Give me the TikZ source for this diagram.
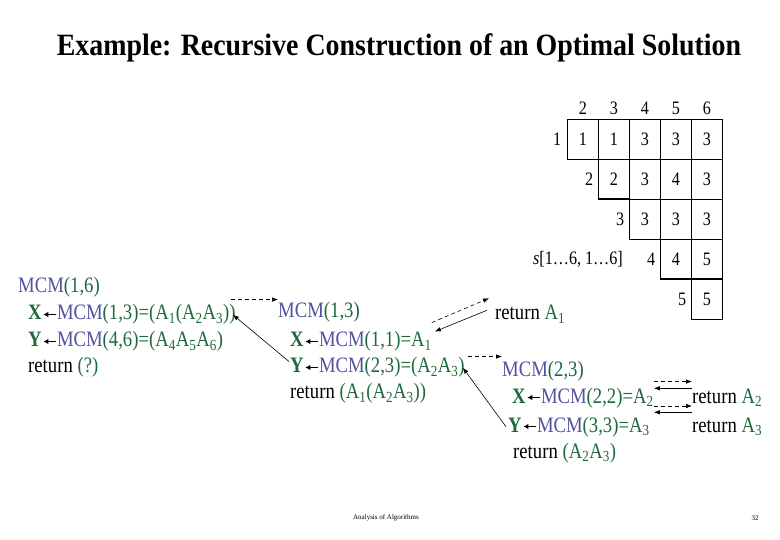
\documentclass[tikz,border=0pt]{standalone}
\usepackage{fontspec}
\setmainfont{Liberation Serif}
\newfontfamily\slimserif[FakeStretch=0.85]{Liberation Serif}
\newfontfamily\titleserif[FakeStretch=0.9]{Liberation Serif}
\usetikzlibrary{arrows.meta,positioning}
\definecolor{mcmblue}{RGB}{82,82,160}
\definecolor{argreen}{RGB}{30,105,60}
\newcommand{\codefont}{\slimserif\fontsize{22}{26}\selectfont}
\newcommand{\cellfont}{\slimserif\fontsize{19}{22}\selectfont}
\newcommand{\mcm}[1]{\textcolor{mcmblue}{MCM}\textcolor{argreen}{(#1)}}
\newcommand{\ma}[1]{A\textsubscript{#1}}
\newcommand{\assign}{\hspace{1pt}\tikz[baseline=-5.5pt]\draw[line width=1.3pt,
  -{Latex[length=5pt,width=5.5pt]}] (13pt,0) -- (0,0);}
\newcommand{\vx}{\textcolor{argreen}{\textbf{X}}}
\newcommand{\vy}{\textcolor{argreen}{\textbf{Y}}}

\begin{document}
\begin{tikzpicture}[x=1pt,y=-1pt,>=Latex,
  codeline/.style={anchor=base west,inner sep=0pt,font=\codefont},
  cell/.style={draw,minimum width=31pt,minimum height=40pt,inner sep=0pt,
    outer sep=0pt,font=\cellfont},
  idx/.style={inner sep=0pt,font=\cellfont},
  callarrow/.style={-{Latex[length=6pt,width=4.5pt]},semithick,
    dash pattern=on 4pt off 3pt},
  retarrow/.style={-{Latex[length=6pt,width=4.5pt]},semithick}]
\fill[white] (0,0) rectangle (780,540);
\useasboundingbox (0,0) rectangle (780,540);

% title and footer
\node[font=\titleserif\fontsize{31}{34}\selectfont\bfseries] (title) at (399,48)
  {Example: Recursive Construction of an Optimal Solution};
\node[font=\fontsize{7}{8}\selectfont] (course) at (386,518) {Analysis of Algorithms};
\node[font=\fontsize{7}{8}\selectfont] (page) at (755,518) {32};

% table s
\node[cell] (c12) at (583,139) {1};
\node[cell,right=0pt of c12] (c13) {1};
\node[cell,right=0pt of c13] (c14) {3};
\node[cell,right=0pt of c14] (c15) {3};
\node[cell,right=0pt of c15] (c16) {3};
\node[cell,below=0pt of c13] (c23) {2};
\node[cell,right=0pt of c23] (c24) {3};
\node[cell,right=0pt of c24] (c25) {4};
\node[cell,right=0pt of c25] (c26) {3};
\node[cell,below=0pt of c24] (c34) {3};
\node[cell,right=0pt of c34] (c35) {3};
\node[cell,right=0pt of c35] (c36) {3};
\node[cell,below=0pt of c35] (c45) {4};
\node[cell,right=0pt of c45] (c46) {5};
\node[cell,below=0pt of c46] (c56) {5};
\draw[very thick] (c13.north west) -- (c23.south west) -- (c23.south east);
\draw[very thick] (c45.south west) -- (c46.south east);
\node[idx,above=4pt of c12] (h2) {2};
\node[idx,above=4pt of c13] (h3) {3};
\node[idx,above=4pt of c14] (h4) {4};
\node[idx,above=4pt of c15] (h5) {5};
\node[idx,above=4pt of c16] (h6) {6};
\node[idx,left=6pt of c12] (r1) {1};
\node[idx,left=5pt of c23] (r2) {2};
\node[idx,left=5pt of c34] (r3) {3};
\node[idx,left=5pt of c45] (r4) {4};
\node[idx,left=5pt of c56] (r5) {5};
\node[idx,left=24pt of r4] (sname) {\textit{s}[1\ldots6, 1\ldots6]};

% MCM(1,6)
\node[codeline] (lm) at (18,293) {\mcm{1,6}};
\node[codeline] (lx) at (28,320)
  {\vx\assign\mcm{1,3}\textcolor{argreen}{=(\ma{1}(\ma{2}\ma{3}))}};
\node[codeline] (ly) at (28,347)
  {\vy\assign\mcm{4,6}\textcolor{argreen}{=(\ma{4}\ma{5}\ma{6})}};
\node[codeline] (lr) at (28,373) {return \textcolor{argreen}{(?)}};

% MCM(1,3)
\node[codeline] (mm) at (278,318) {\mcm{1,3}};
\node[codeline] (mx) at (290,347) {\vx\assign\mcm{1,1}\textcolor{argreen}{=\ma{1}}};
\node[codeline] (my) at (290,373)
  {\vy\assign\mcm{2,3}\textcolor{argreen}{=(\ma{2}\ma{3})}};
\node[codeline] (mr) at (290,399) {return \textcolor{argreen}{(\ma{1}(\ma{2}\ma{3}))}};
\node[codeline] (ret1) at (495,320) {return \textcolor{argreen}{\ma{1}}};

% MCM(2,3)
\node[codeline] (rm) at (502,377) {\mcm{2,3}};
\node[codeline] (rx) at (512,403) {\vx\assign\mcm{2,2}\textcolor{argreen}{=\ma{2}}};
\node[codeline] (ry) at (508,432) {\vy\assign\mcm{3,3}\textcolor{argreen}{=\ma{3}}};
\node[codeline] (rr) at (513,458) {return \textcolor{argreen}{(\ma{2}\ma{3})}};
\node[codeline] (ret2) at (692,403) {return \textcolor{argreen}{\ma{2}}};
\node[codeline] (ret3) at (692,432) {return \textcolor{argreen}{\ma{3}}};

% calls and returns
\draw[callarrow] ([xshift=-5pt,yshift=5pt]lx.north east) -- ([yshift=3pt]mm.north west);
\draw[retarrow] ([xshift=-1pt,yshift=-4pt]my.north west) -- ([xshift=-3pt]lx.east);
\draw[callarrow] ([yshift=9pt]mx.north east) -- ([xshift=-6pt,yshift=7pt]ret1.north west);
\draw[retarrow] ([xshift=-8pt,yshift=4pt]ret1.west) -- ([xshift=3pt]mx.north east);
\draw[callarrow] ([xshift=3pt,yshift=1pt]my.north east) -- ([yshift=5pt]rm.north west);
\draw[retarrow] ([xshift=-2pt]ry.west) -- ([xshift=-2pt]my.east);
\coordinate (call2) at ([yshift=6pt]rx.north east);
\draw[callarrow] (call2) -- (call2 -| ret2.west);
\draw[retarrow] (ret2.north west) -- (ret2.north west -| rx.east);
\coordinate (call3) at ([yshift=-3pt]rx.base east);
\draw[callarrow] (call3) -- (call3 -| ret3.west);
\draw[retarrow] ([yshift=5pt]ret3.north west) -- ([yshift=5pt]ret3.north west -| rx.east);
\end{tikzpicture}
\end{document}
